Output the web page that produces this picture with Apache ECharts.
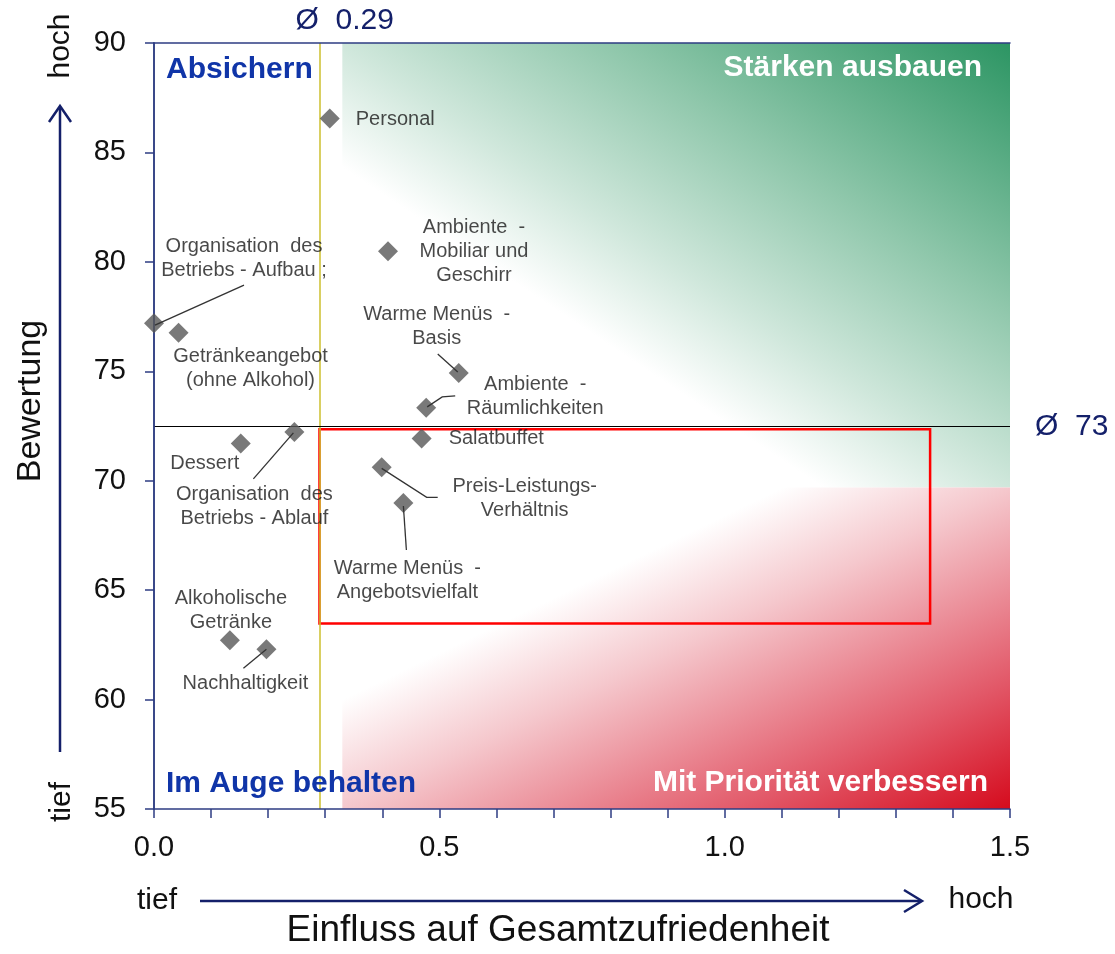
<!DOCTYPE html>
<html><head><meta charset="utf-8">
<script src="https://cdn.jsdelivr.net/npm/echarts@6/dist/echarts.min.js"></script>
<style>html,body{margin:0;padding:0;background:#fff}#c{width:1115px;height:954px}</style>
</head><body><div id="c"></div>
<script>
// ---------- data ----------
const names = ['Personal','Ambiente - Mobiliar und Geschirr','Organisation des Betriebs - Aufbau','Getränkeangebot (ohne Alkohol)','Warme Menüs - Basis','Ambiente - Räumlichkeiten','Salatbuffet','Organisation des Betriebs - Ablauf','Dessert','Preis-Leistungs-Verhältnis','Warme Menüs - Angebotsvielfalt','Alkoholische Getränke','Nachhaltigkeit'];
const labelTexts = ['Personal','Ambiente  -\nMobiliar und\nGeschirr','Organisation  des\nBetriebs - Aufbau ;','Getränkeangebot\n(ohne Alkohol)','Warme Menüs  -\nBasis','Ambiente  -\nRäumlichkeiten','Salatbuffet','Organisation  des\nBetriebs - Ablauf','Dessert','Preis-Leistungs-\nVerhältnis','Warme Menüs  -\nAngebotsvielfalt','Alkoholische\nGetränke','Nachhaltigkeit'];
const xVals = [0.308, 0.410, 0.000, 0.043, 0.534, 0.477, 0.469, 0.246, 0.152, 0.399, 0.437, 0.133, 0.197];
const yVals = [86.55, 80.48, 77.20, 76.76, 74.92, 73.33, 71.93, 72.23, 71.70, 70.61, 68.98, 62.71, 62.30];
const avgX = 0.29, avgY = 72.5;
const avgXLabel = 'Ø  0.29', avgYLabel = 'Ø  73';
const xRange = [0, 1.5], yRange = [55, 90];
const zoneSplitY = 69.69, zoneStartX = 0.33;
const focusBox = [[0.29, 72.35], [1.36, 63.48]];
const quadrantLabels = ['Absichern', 'Stärken ausbauen', 'Im Auge behalten', 'Mit Priorität verbessern'];
const xAxisTitle = 'Einfluss auf Gesamtzufriedenheit', yAxisTitle = 'Bewertung';
const lowText = 'tief', highText = 'hoch';

// ---------- styling / layout ----------
const FONT = '"Liberation Sans", Arial, sans-serif';
const NAVY = '#14206a';
const AXIS = '#2e3d82';
const G = {left:154, top:43, width:856, height:772};
const labelPos = {
  0:{dx:26,dy:1,align:'left'}, 1:{dx:86,dy:0}, 2:{dx:90,dy:-65}, 3:{dx:72,dy:36},
  4:{dx:-22,dy:-47}, 5:{dx:109,dy:-11}, 6:{dx:27,dy:0,align:'left'}, 7:{dx:-40,dy:75},
  8:{dx:-36,dy:20}, 9:{dx:143,dy:31}, 10:{dx:4,dy:77}, 11:{dx:1,dy:-30}, 12:{dx:-21,dy:34}
};
const leaders = {
  2:[[1,2],[90,-38]], 4:[[-1,-1],[-21,-19]], 5:[[1,-1],[16,-11],[29,-12]],
  7:[[-1,1],[-41,47]], 9:[[0,1],[45,30],[56,30]], 10:[[0,3],[3,47]], 12:[[0,0],[-23,19]]
};
const greenStops = [
  {offset:0,color:'#ffffff'},{offset:0.36,color:'#ffffff'},{offset:0.5,color:'#cfe7db'},
  {offset:0.7,color:'#8fc7ab'},{offset:1,color:'#2c9563'}];
const redStops = [
  {offset:0,color:'#ffffff'},{offset:0.33,color:'#ffffff'},{offset:0.5,color:'#f5c8cd'},
  {offset:0.8,color:'#e25868'},{offset:1,color:'#d50b1d'}];

const pts = names.map((n,i)=>{
  const p = labelPos[i];
  return {name:n, value:[xVals[i], yVals[i]],
    label:{show:true, formatter:labelTexts[i], position:'inside', offset:[p.dx,p.dy],
      align:p.align||'center', verticalAlign:'middle', color:'#1a1a1a', fontSize:20, lineHeight:24, fontFamily:FONT}};
});
const leaderData = Object.keys(leaders).map(k=>({name:names[k], value:[xVals[k], yVals[k], +k]}));

const axisLineOnly = {show:true, lineStyle:{color:AXIS, width:1.5}};
const chart = echarts.init(document.getElementById('c'), null, {renderer:'canvas'});
const option = {
  animation:false,
  backgroundColor:'#fff',
  textStyle:{fontFamily:FONT},
  grid:{left:G.left, top:G.top, width:G.width, height:G.height, show:false},
  xAxis:[{type:'value', min:xRange[0], max:xRange[1], interval:0.1, z:10,
    name:xAxisTitle, nameLocation:'middle', nameGap:103,
    nameTextStyle:{fontSize:37, color:'#111', fontFamily:FONT, padding:[0,48,0,0]},
    axisLine:axisLineOnly,
    axisTick:{show:true, length:9, lineStyle:{color:AXIS, width:1.5}},
    splitLine:{show:false},
    axisLabel:{fontSize:29, color:'#111', margin:24, fontFamily:FONT,
      formatter:v=>Math.abs(v*2-Math.round(v*2))<1e-6 ? v.toFixed(1) : ''}},
    {type:'value', position:'top', min:xRange[0], max:xRange[1], z:10,
      axisLine:axisLineOnly, axisTick:{show:false}, axisLabel:{show:false}, splitLine:{show:false}}],
  yAxis:[{type:'value', min:yRange[0], max:yRange[1], interval:5, z:10,
    name:yAxisTitle, nameLocation:'middle', nameGap:106, nameRotate:90,
    nameTextStyle:{fontSize:34, color:'#111', fontFamily:FONT, padding:[0,0,0,50]},
    axisLine:axisLineOnly,
    axisTick:{show:true, length:9, lineStyle:{color:AXIS, width:1.5}},
    splitLine:{show:false},
    axisLabel:{fontSize:29, color:'#111', margin:28, fontFamily:FONT}},
    {type:'value', position:'right', min:yRange[0], max:yRange[1], z:10,
      axisLine:axisLineOnly, axisTick:{show:false}, axisLabel:{show:false}, splitLine:{show:false}}],
  series:[
    {id:'zones', type:'scatter', name:'zones', data:[], z:0, silent:true,
      markArea:{silent:true, data:[]}},
    {type:'scatter', name:'box', data:[], z:2, silent:true,
      markArea:{silent:true, data:[
        [{coord:focusBox[0], itemStyle:{color:'rgba(0,0,0,0)', borderColor:'#ff0000', borderWidth:2.5}}, {coord:focusBox[1]}]
      ]},
      markLine:{silent:true, symbol:'none', label:{show:false}, data:[
        {xAxis:avgX, lineStyle:{color:'#cdbf2e', width:1.5, type:'solid'}},
        {yAxis:avgY, lineStyle:{color:'#000', width:1, type:'solid'}}
      ]}},
    {type:'scatter', name:'points', data:pts, z:11, clip:false,
      symbol:'diamond', symbolSize:20, itemStyle:{color:'#575757'}},
    {type:'custom', name:'leaders', data:leaderData, z:12, clip:false, silent:true,
      renderItem:(params, api)=>{
        const p = api.coord([api.value(0), api.value(1)]);
        const offs = leaders[api.value(2)];
        return {type:'polyline', shape:{points:offs.map(o=>[p[0]+o[0], p[1]+o[1]])},
          style:{stroke:'#333', lineWidth:1.3, fill:null}};
      }}
  ]
};
chart.setOption(option);

const px = v => chart.convertToPixel({gridIndex:0}, v);
// gradients whose iso-lines run parallel to the box's anti-diagonal (as in the original)
function skewGrad(w, h, fromTop, stops){
  const d = w*w + h*h, nx = 2*h*h/d, ny = 2*w*w/d;
  return fromTop ? new echarts.graphic.LinearGradient(0,0,nx,ny,stops)
                 : new echarts.graphic.LinearGradient(0,1,nx,1-ny,stops);
}
const gA = px([zoneStartX, yRange[1]]), gB = px([xRange[1], zoneSplitY]);
const rA = px([zoneStartX, zoneSplitY]), rB = px([xRange[1], yRange[0]]);
chart.setOption({series:[{id:'zones', markArea:{silent:true, data:[
  [{coord:[zoneStartX, zoneSplitY], itemStyle:{color:skewGrad(gB[0]-gA[0], gB[1]-gA[1], false, greenStops)}}, {coord:[xRange[1], yRange[1]]}],
  [{coord:[zoneStartX, yRange[0]], itemStyle:{color:skewGrad(rB[0]-rA[0], rB[1]-rA[1], true, redStops)}}, {coord:[xRange[1], zoneSplitY]}]
]}}]});

const pV = px([avgX, yRange[1]]);
const pH = px([xRange[1], avgY]);
const pTL = px([xRange[0], yRange[1]]);
const pBR = px([xRange[1], yRange[0]]);
const qs = {fontSize:30, fontWeight:'bold', fontFamily:FONT};
const arrow = {stroke:NAVY, lineWidth:2.5, fill:null};
const side = {fontSize:30, fill:'#111', fontFamily:FONT, align:'center', verticalAlign:'middle'};
chart.setOption({graphic:[
  {type:'text', x:pV[0]-24, y:pV[1]-22, style:{text:avgXLabel, fill:NAVY, fontSize:30, fontFamily:FONT, align:'left', verticalAlign:'middle'}},
  {type:'text', x:pH[0]+25, y:pH[1]+1, style:{text:avgYLabel, fill:NAVY, fontSize:30, fontFamily:FONT, align:'left', verticalAlign:'middle'}},
  {type:'text', x:pTL[0]+12, y:pTL[1]+27, z:10, style:Object.assign({text:quadrantLabels[0], fill:'#1035a8', align:'left', verticalAlign:'middle'}, qs)},
  {type:'text', x:pBR[0]-28, y:pTL[1]+25, z:10, style:Object.assign({text:quadrantLabels[1], fill:'#ffffff', align:'right', verticalAlign:'middle'}, qs)},
  {type:'text', x:pTL[0]+12, y:pBR[1]-25, z:10, style:Object.assign({text:quadrantLabels[2], fill:'#1035a8', align:'left', verticalAlign:'middle'}, qs)},
  {type:'text', x:pBR[0]-22, y:pBR[1]-26, z:10, style:Object.assign({text:quadrantLabels[3], fill:'#ffffff', align:'right', verticalAlign:'middle'}, qs)},
  {type:'polyline', shape:{points:[[60,752],[60,107]]}, style:arrow},
  {type:'polyline', shape:{points:[[49,122],[60,106],[71,122]]}, style:arrow},
  {type:'polyline', shape:{points:[[200,901],[921,901]]}, style:arrow},
  {type:'polyline', shape:{points:[[904,890],[922,901],[904,912]]}, style:arrow},
  {type:'text', x:61, y:46, rotation:Math.PI/2, style:Object.assign({text:highText}, side)},
  {type:'text', x:62, y:802, rotation:Math.PI/2, style:Object.assign({text:lowText}, side)},
  {type:'text', x:157, y:901, style:Object.assign({text:lowText}, side)},
  {type:'text', x:981, y:900, style:Object.assign({text:highText}, side)}
]});
</script></body></html>
